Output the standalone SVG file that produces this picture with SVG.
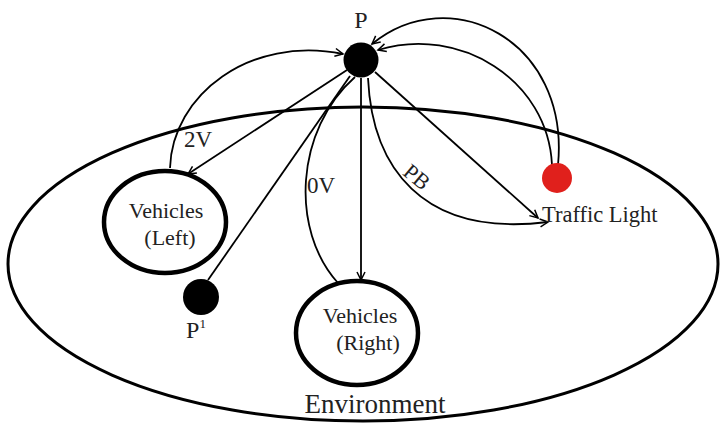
<svg xmlns="http://www.w3.org/2000/svg" width="725" height="424" viewBox="0 0 725 424">
<style>
  text { font-family: "Liberation Serif", "Times New Roman", serif; fill: #222; }
  .edge { fill: none; stroke: #000; stroke-width: 1.8; }
  .node { fill: #fff; stroke: #000; stroke-width: 4.5; }
</style>
<defs>
  <marker id="arr" viewBox="-10 -6 12 12" refX="0" refY="0" markerWidth="12" markerHeight="12" markerUnits="userSpaceOnUse" orient="auto">
    <path d="M-8,-4 L0,0 L-8,4" fill="none" stroke="#000" stroke-width="1.5"/>
  </marker>
</defs>
<rect width="725" height="424" fill="#fff"/>

<g id="environment">
  <ellipse cx="363" cy="264" rx="355" ry="157" fill="none" stroke="#000" stroke-width="3"/>
  <text x="375" y="413" font-size="27" text-anchor="middle">Environment</text>
</g>

<g id="connectors">
  <path class="edge" d="M170,168 C172,95 250,35 343,54" marker-end="url(#arr)"/>
  <path class="edge" d="M347,70 L188,174" marker-end="url(#arr)"/>
  <path class="edge" d="M350,76 L208,280"/>
  <path class="edge" d="M338,283 C290,230 295,130 355,77"/>
  <path class="edge" d="M361,78 L361,280" marker-end="url(#arr)"/>
  <path class="edge" d="M368,78 C372,165 420,238 548,222" marker-end="url(#arr)"/>
  <path class="edge" d="M375,72 L538,218" marker-end="url(#arr)"/>
  <path class="edge" d="M558,165 C570,40 450,-20 372,44" marker-end="url(#arr)"/>
  <path class="edge" d="M552,165 C548,80 460,25 378,50" marker-end="url(#arr)"/>
  <text x="198" y="147" text-anchor="middle" font-size="23">2V</text>
  <text x="321" y="193" text-anchor="middle" font-size="23">0V</text>
  <text x="416" y="184" text-anchor="middle" font-size="22" transform="rotate(40 416 178)">PB</text>
</g>

<g id="node-p">
  <circle cx="361" cy="60" r="17.5" fill="#000"/>
  <text x="361" y="28" font-size="24" text-anchor="middle">P</text>
</g>

<g id="node-p1">
  <circle cx="201" cy="297" r="18" fill="#000"/>
  <text x="196" y="338" font-size="24" text-anchor="middle">P<tspan font-size="13" dy="-10">1</tspan></text>
</g>

<g id="node-vehicles-left">
  <ellipse class="node" cx="165" cy="222" rx="61" ry="51"/>
  <text x="166" y="218" font-size="22" text-anchor="middle">Vehicles</text>
  <text x="170" y="245" font-size="22" text-anchor="middle">(Left)</text>
</g>

<g id="node-vehicles-right">
  <ellipse class="node" cx="357" cy="333" rx="61" ry="52"/>
  <text x="360" y="323" font-size="22" text-anchor="middle">Vehicles</text>
  <text x="368" y="350" font-size="22" text-anchor="middle">(Right)</text>
</g>

<g id="node-traffic-light">
  <circle cx="557" cy="178" r="15" fill="#e0201c"/>
  <text x="542" y="222" font-size="22.5">Traffic Light</text>
</g>
</svg>
